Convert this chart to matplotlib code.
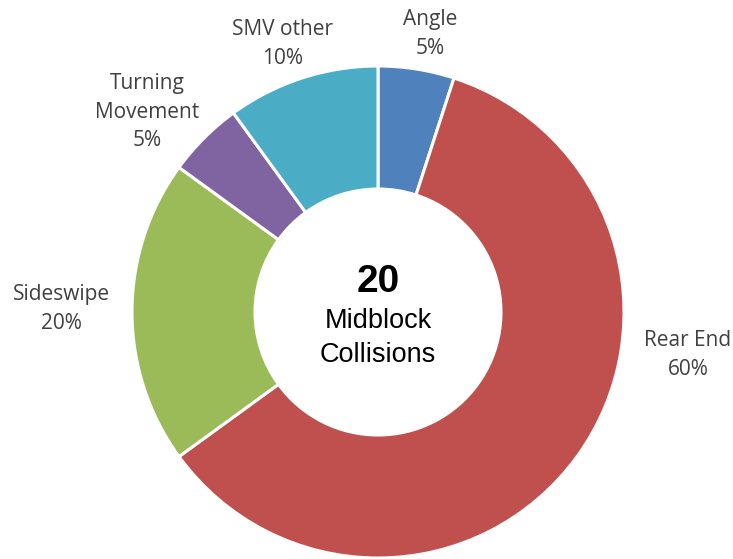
import matplotlib
matplotlib.use("Agg")
import matplotlib.pyplot as plt

categories = ["Angle", "Rear End", "Sideswipe", "Turning\nMovement", "SMV other"]
shares = [5, 60, 20, 5, 10]
colors = ["#4F81BD", "#C0504D", "#9BBB59", "#8064A2", "#4BACC6"]
total = 20

W, H = 733, 559
fig = plt.figure(figsize=(W / 100, H / 100), dpi=100)
ax = fig.add_axes([0, 0, 1, 1])

cx, cy, r = 378, 312, 246
# y axis runs downward (pixel-like), so -90 is the top and ccw reads clockwise
ax.pie(shares, colors=colors, startangle=-90, counterclock=True,
       center=(cx, cy), radius=r, frame=True,
       wedgeprops=dict(width=r * 0.5, edgecolor="white", linewidth=2.2))
ax.set_xlim(0, W)
ax.set_ylim(H, 0)
ax.set_aspect("equal")
ax.axis("off")

# label block centres (Excel best-fit placement)
label_pos = [(430, 34), (688, 355), (61, 309), (147, 112), (283, 44)]
for name, val, (x, y) in zip(categories, shares, label_pos):
    ax.text(x, y, f"{name}\n{val}%", ha="center", va="center", fontsize=15,
            family="Open Sans", color="#404040", linespacing=1.5)

ax.text(cx, 282, str(total), ha="center", va="center", fontsize=28,
        fontweight="bold", family="Liberation Sans", color="black")
ax.text(cx, 338, "Midblock\nCollisions", ha="center", va="center", fontsize=19.5,
        family="Liberation Sans", color="black", linespacing=1.4)

fig.savefig("out.png", dpi=100)
